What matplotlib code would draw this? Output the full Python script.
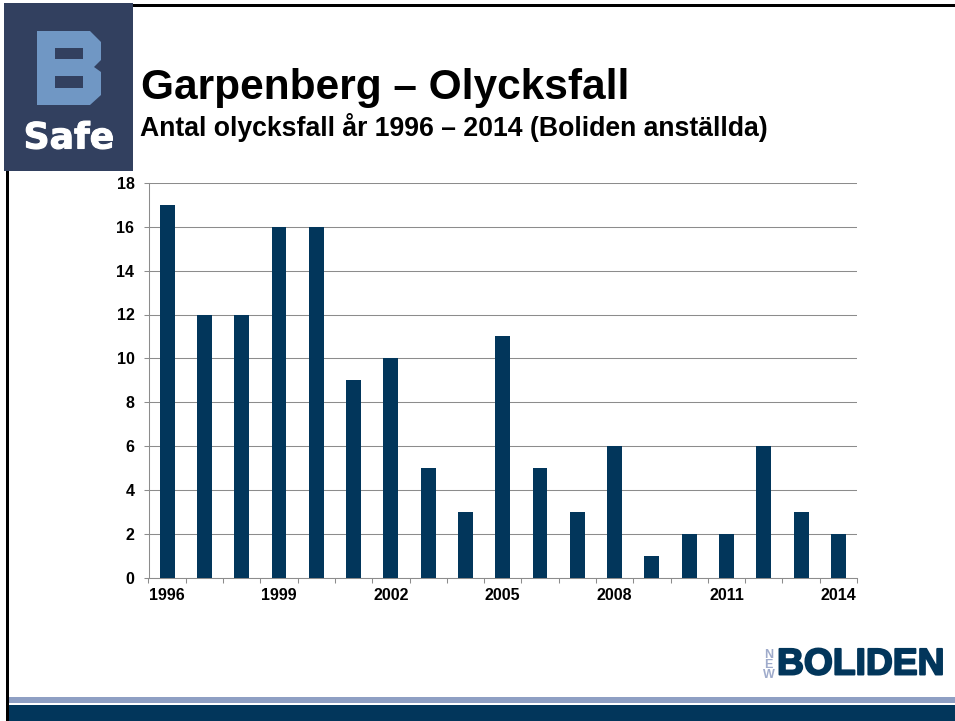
# Garpenberg accidents per year, slide style
import matplotlib
matplotlib.use('Agg')
import matplotlib.pyplot as plt
import matplotlib.patheffects as pe
from matplotlib.patches import Polygon, Rectangle

years = list(range(1996, 2015))
accidents = [17, 12, 12, 16, 16, 9, 10, 5, 3, 11, 5, 3, 6, 1, 2, 2, 6, 3, 2]
year_labels = [1996, 1999, 2002, 2005, 2008, 2011, 2014]
y_ticks = list(range(0, 19, 2))

W, H = 955, 721
navy = '#02365B'
plt.rcParams['font.family'] = ['Liberation Sans', 'DejaVu Sans']

fig = plt.figure(figsize=(W / 100, H / 100), dpi=100)

# background layer in pixel coordinates, y going down
bg = fig.add_axes([0, 0, 1, 1])
bg.set_xlim(0, W)
bg.set_ylim(H, 0)
bg.axis('off')

bg.add_patch(Rectangle((6, 4), W - 6, 3, color='black', lw=0))
bg.add_patch(Rectangle((6, 4), 2.5, H - 4, color='black', lw=0))
bg.add_patch(Rectangle((8.5, 697), W, 6, color='#8E9FC3', lw=0))
bg.add_patch(Rectangle((8.5, 705), W, 16, color=navy, lw=0))

# B Safe logo
bg.add_patch(Rectangle((4, 3), 129, 168, color='#32405F', lw=0))
bg.add_patch(Polygon([(37, 31), (90, 31), (101, 42), (101, 60), (94, 67), (101, 72),
                      (101, 95), (90, 105), (37, 105)], color='#7097C4', lw=0))
bg.add_patch(Rectangle((55, 48), 28, 11, color='#32405F', lw=0))
bg.add_patch(Rectangle((55, 76), 28, 12, color='#32405F', lw=0))
bg.text(69, 138.5, 'Safe', color='white', fontsize=26, fontweight='bold',
        ha='center', va='center', family=['DejaVu Sans'],
        path_effects=[pe.withStroke(linewidth=0.8, foreground='white')])

bg.text(141, 88, 'Garpenberg \u2013 Olycksfall', fontsize=30.5, fontweight='bold',
        ha='left', va='center', color='black')
bg.text(140, 128, 'Antal olycksfall \u00e5r 1996 \u2013 2014 (Boliden anst\u00e4llda)',
        fontsize=19.2, fontweight='bold', ha='left', va='center', color='black')

# Boliden logo
bg.text(777, 665, 'BOLIDEN', fontsize=26.8, fontweight='bold', color=navy,
        ha='left', va='center', family=['Liberation Sans'],
        path_effects=[pe.withStroke(linewidth=1.4, foreground=navy)])
for i, c in enumerate('NEW'):
    bg.text(768.5, 654.5 + i * 10.5, c, fontsize=9, fontweight='bold', color='#9FABCB',
            ha='center', va='center')

# chart
ax = fig.add_axes([148.5 / W, 1 - 577.5 / H, (857 - 148.5) / W, (577.5 - 183) / H])
ax.patch.set_alpha(0)
ax.bar(years, accidents, width=0.4, color=navy, zorder=3)
ax.set_xlim(1995.5, 2014.5)
ax.set_ylim(0, 18)
ax.set_yticks(y_ticks)
ax.set_xticks([y - 0.5 for y in years] + [2014.5], labels=[])
ax.set_xticks(year_labels, labels=[str(y) for y in year_labels], minor=True)
ax.grid(axis='y', color='#8C8C8C', lw=0.75, zorder=1)
ax.spines[['top', 'right']].set_visible(False)
ax.spines[['left', 'bottom']].set_color('#8C8C8C')
ax.spines[['left', 'bottom']].set_linewidth(0.75)
ax.tick_params(axis='y', which='major', direction='out', length=3.6, width=0.75, color='#8C8C8C',
               labelsize=11.5, pad=6.5)
ax.tick_params(axis='x', which='major', direction='out', length=3.6, width=0.75, color='#8C8C8C')
ax.tick_params(axis='x', which='minor', length=0, labelsize=11.5, pad=7.5)
for lab in ax.get_yticklabels() + ax.get_xticklabels(minor=True):
    lab.set_fontweight('bold')

fig.savefig('out.png', dpi=100)
